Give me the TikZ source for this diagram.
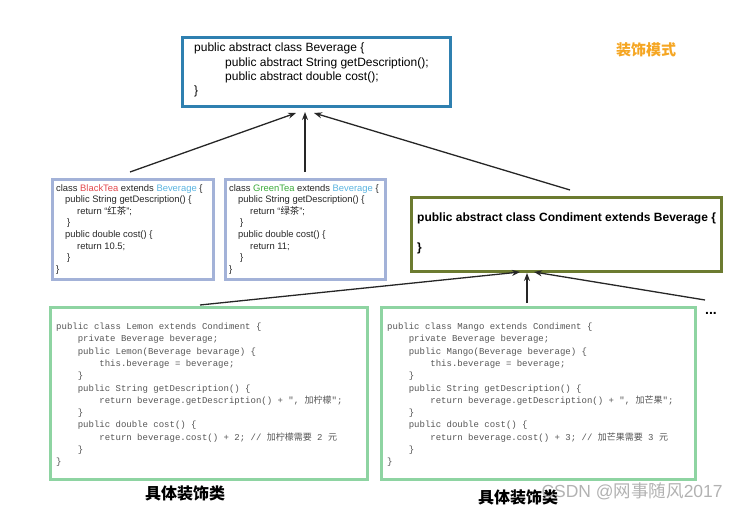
\documentclass[tikz,border=0pt]{standalone}
\usepackage{fontspec}
\setmainfont{Liberation Sans}
\setmonofont{Liberation Mono}
\newfontfamily\cjk{Noto Sans CJK SC}
\usetikzlibrary{arrows.meta,calc}
\definecolor{bevblue}{HTML}{2F80B0}
\definecolor{teaborder}{HTML}{A3B2D8}
\definecolor{condolive}{HTML}{6C7B30}
\definecolor{lemgreen}{HTML}{8ED4A2}
\definecolor{titleorange}{HTML}{F5A623}
\definecolor{btred}{HTML}{E2474C}
\definecolor{gtgreen}{HTML}{3BAA3B}
\definecolor{bevtxt}{HTML}{5AB3DF}
\definecolor{codegrey}{HTML}{555555}
\tikzset{
  boxbase/.style={draw, rectangle, anchor=north west, inner sep=0pt},
  bevbox/.style={boxbase, draw=bevblue, line width=3pt},
  teabox/.style={boxbase, draw=teaborder, line width=3pt},
  condbox/.style={boxbase, draw=condolive, line width=3pt},
  impbox/.style={boxbase, draw=lemgreen, line width=3pt},
  txt/.style={anchor=north west, align=left, inner sep=0pt},
  arr/.style={-{Stealth[length=8pt,width=6pt]}, line width=1.3pt, black!85},
  cjklabel/.style={font=\cjk\bfseries\fontsize{16}{18}\selectfont},
}
\newcommand{\ci}[1]{{\cjk #1}}
\begin{document}
\begin{tikzpicture}[x=1pt,y=1pt]
\useasboundingbox (0,0) rectangle (752,-508);
% Beverage
\node[bevbox, minimum width=268pt, minimum height=69pt] (bev) at (181,-36) {};
\node[txt, font=\fontsize{12}{14.3}\selectfont] (bevt) at (194,-43) {public abstract class Beverage \{\\
\hspace*{31pt}public abstract String getDescription();\\
\hspace*{31pt}public abstract double cost();\\
\}};
\node[font=\cjk\bfseries\fontsize{15}{17}\selectfont, text=titleorange] (title) at (646,-50) {装饰模式};
% Teas
\node[teabox, minimum width=161pt, minimum height=100pt] (bt) at (51,-178) {};
\node[txt, font=\fontsize{9.4}{11.6}\selectfont, text=black!85] (btt) at (56,-184) {class \textcolor{btred}{BlackTea} extends \textcolor{bevtxt}{Beverage} \{\\
\hspace*{9pt}public String getDescription() \{\\
\hspace*{21pt}return “\ci{红茶}”;\\
\hspace*{11pt}\}\\
\hspace*{9pt}public double cost() \{\\
\hspace*{21pt}return 10.5;\\
\hspace*{11pt}\}\\
\}};
\node[teabox, minimum width=160pt, minimum height=100pt] (gt) at (224,-178) {};
\node[txt, font=\fontsize{9.4}{11.6}\selectfont, text=black!85] (gtt) at (229,-184) {class \textcolor{gtgreen}{GreenTea} extends \textcolor{bevtxt}{Beverage} \{\\
\hspace*{9pt}public String getDescription() \{\\
\hspace*{21pt}return “\ci{绿茶}”;\\
\hspace*{11pt}\}\\
\hspace*{9pt}public double cost() \{\\
\hspace*{21pt}return 11;\\
\hspace*{11pt}\}\\
\}};
% Condiment
\node[condbox, minimum width=310pt, minimum height=74pt] (cond) at (410,-196) {};
\node[txt, font=\bfseries\fontsize{12}{14}\selectfont] (condt1) at (417,-213) {public abstract class Condiment extends Beverage \{};
\node[txt, font=\bfseries\fontsize{12}{14}\selectfont] (condt2) at (417,-243) {\}};
% Lemon
\node[impbox, minimum width=317pt, minimum height=172pt] (lem) at (49,-306) {};
\node[txt, font=\ttfamily\fontsize{9}{12.27}\selectfont, text=codegrey] (lemt) at (56,-323) {public class Lemon extends Condiment \{\\
\hspace*{2.4em}private Beverage beverage;\\
\hspace*{2.4em}public Lemon(Beverage bevarage) \{\\
\hspace*{4.8em}this.beverage = beverage;\\
\hspace*{2.4em}\}\\
\hspace*{2.4em}public String getDescription() \{\\
\hspace*{4.8em}return beverage.getDescription() + ", \ci{加柠檬}";\\
\hspace*{2.4em}\}\\
\hspace*{2.4em}public double cost() \{\\
\hspace*{4.8em}return beverage.cost() + 2; // \ci{加柠檬需要} 2 \ci{元}\\
\hspace*{2.4em}\}\\
\}};
% Mango
\node[impbox, minimum width=314pt, minimum height=172pt] (man) at (380,-306) {};
\node[txt, font=\ttfamily\fontsize{9}{12.27}\selectfont, text=codegrey] (mant) at (387,-323) {public class Mango extends Condiment \{\\
\hspace*{2.4em}private Beverage beverage;\\
\hspace*{2.4em}public Mango(Beverage beverage) \{\\
\hspace*{4.8em}this.beverage = beverage;\\
\hspace*{2.4em}\}\\
\hspace*{2.4em}public String getDescription() \{\\
\hspace*{4.8em}return beverage.getDescription() + ", \ci{加芒果}";\\
\hspace*{2.4em}\}\\
\hspace*{2.4em}public double cost() \{\\
\hspace*{4.8em}return beverage.cost() + 3; // \ci{加芒果需要} 3 \ci{元}\\
\hspace*{2.4em}\}\\
\}};
\node[font=\bfseries\fontsize{14}{16}\selectfont] (dots) at (711,-313) {...};
% labels
\node[cjklabel] (lab1) at (185,-493) {具体装饰类};
\node[cjklabel] (lab2) at (518,-497) {具体装饰类};
\node[font=\fontsize{17.5}{19}\selectfont, text=black!30, anchor=west] (wm) at (538,-491) {CSDN @\ci{网事随风}2017};
% arrow anchor coordinates
\coordinate (a1s) at (130,-172);
\coordinate (a1e) at (296,-113);
\coordinate (a2s) at (305,-172);
\coordinate (a2e) at (305,-112);
\coordinate (a3s) at (570,-190);
\coordinate (a3e) at (314,-113);
\coordinate (b1s) at (200,-305);
\coordinate (b1e) at (520,-272);
\coordinate (b2s) at (527,-303);
\coordinate (b2e) at (527,-273);
\coordinate (b3s) at (705,-300);
\coordinate (b3e) at (534,-272);
\draw[arr] (a1s) -- (a1e);
\draw[arr] (a2s) -- (a2e);
\draw[arr] (a3s) -- (a3e);
\draw[arr] (b1s) -- (b1e);
\draw[arr] (b2s) -- (b2e);
\draw[arr] (b3s) -- (b3e);
\end{tikzpicture}
\end{document}
